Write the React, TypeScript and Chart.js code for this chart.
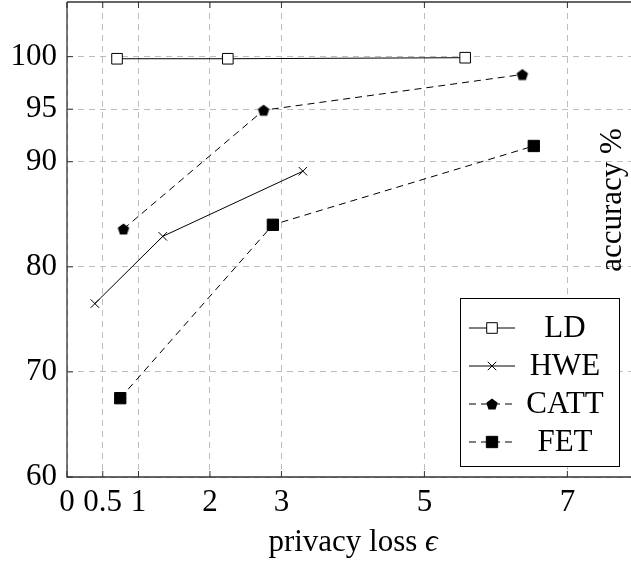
import React, { useEffect, useRef } from 'react';
import { Chart, registerables } from 'chart.js';

Chart.register(...registerables);

const xTicks = [0, 0.5, 1, 2, 3, 5, 7];
const yTicks = [60, 70, 80, 90, 95, 100];

const ldX = [0.7, 2.25, 5.57];
const ldY = [99.8, 99.8, 99.9];
const hweX = [0.39, 1.34, 3.3];
const hweY = [76.5, 82.9, 89.1];
const cattX = [0.79, 2.75, 6.37];
const cattY = [83.6, 94.9, 98.3];
const fetX = [0.745, 2.88, 6.53];
const fetY = [67.5, 84.0, 91.5];

const seriesNames = ['LD', 'HWE', 'CATT', 'FET'];

const FONT = '"Liberation Serif", "DejaVu Serif", serif';
const FS = 31;

function makePentagon(r: number): HTMLCanvasElement {
  const c = document.createElement('canvas');
  const s = Math.ceil(r * 2 + 2);
  c.width = s;
  c.height = s;
  const ctx = c.getContext('2d')!;
  ctx.fillStyle = '#000';
  ctx.beginPath();
  for (let i = 0; i < 5; i++) {
    const a = -Math.PI / 2 + (i * 2 * Math.PI) / 5;
    const px = s / 2 + r * Math.cos(a);
    const py = s / 2 + r * Math.sin(a) + r * 0.1;
    if (i === 0) ctx.moveTo(px, py);
    else ctx.lineTo(px, py);
  }
  ctx.closePath();
  ctx.fill();
  return c;
}

function drawMarker(ctx: CanvasRenderingContext2D, style: any, x: number, y: number, r: number) {
  if (style instanceof HTMLCanvasElement) {
    ctx.drawImage(style, x - style.width / 2, y - style.height / 2);
    return;
  }
  if (style === 'rect') {
    const s = Math.SQRT1_2 * r;
    ctx.beginPath();
    ctx.rect(x - s, y - s, 2 * s, 2 * s);
    ctx.fill();
    ctx.stroke();
    return;
  }
  if (style === 'crossRot') {
    const o = Math.SQRT1_2 * r;
    ctx.beginPath();
    ctx.moveTo(x - o, y - o);
    ctx.lineTo(x + o, y + o);
    ctx.moveTo(x - o, y + o);
    ctx.lineTo(x + o, y - o);
    ctx.stroke();
  }
}

const overlay = {
  id: 'overlay',
  afterDraw(chart: any) {
    const ctx = chart.ctx as CanvasRenderingContext2D;
    const ca = chart.chartArea;
    const xs = chart.scales.x;
    const ys = chart.scales.y;
    ctx.save();
    // axis lines
    ctx.strokeStyle = '#333';
    ctx.lineWidth = 1.3;
    ctx.setLineDash([]);
    ctx.beginPath();
    ctx.moveTo(ca.left, ca.top);
    ctx.lineTo(ca.left, ca.bottom);
    ctx.lineTo(chart.width, ca.bottom);
    ctx.moveTo(ca.left, ca.top);
    ctx.lineTo(chart.width, ca.top);
    ctx.stroke();
    // inward tick marks
    ctx.lineWidth = 1;
    ctx.beginPath();
    for (const v of xTicks) {
      const px = xs.getPixelForValue(v);
      ctx.moveTo(px, ca.bottom);
      ctx.lineTo(px, ca.bottom - 6);
      ctx.moveTo(px, ca.top);
      ctx.lineTo(px, ca.top + 6);
    }
    for (const v of yTicks) {
      const py = ys.getPixelForValue(v);
      ctx.moveTo(ca.left, py);
      ctx.lineTo(ca.left + 6, py);
    }
    ctx.stroke();

    // y title (inside plot, right side)
    ctx.fillStyle = '#000';
    ctx.font = `${FS}px ${FONT}`;
    ctx.save();
    ctx.translate(613, 200);
    ctx.rotate(-Math.PI / 2);
    ctx.textAlign = 'center';
    ctx.textBaseline = 'middle';
    ctx.fillText('accuracy %', 0, 0);
    ctx.restore();

    // x title
    const t1 = 'privacy loss ';
    const t2 = '\u03F5';
    ctx.font = `${FS}px ${FONT}`;
    const w1 = ctx.measureText(t1).width;
    ctx.font = `italic ${FS}px ${FONT}`;
    const w2 = ctx.measureText(t2).width;
    const cx = 353;
    const startX = cx - (w1 + w2) / 2;
    ctx.textBaseline = 'alphabetic';
    ctx.textAlign = 'left';
    ctx.font = `${FS}px ${FONT}`;
    ctx.fillText(t1, startX, 551);
    ctx.font = `italic ${FS}px ${FONT}`;
    ctx.fillText(t2, startX + w1, 551);

    // legend
    const lx0 = 460, ly0 = 298, lx1 = 619, ly1 = 466;
    ctx.fillStyle = '#fff';
    ctx.fillRect(lx0, ly0, lx1 - lx0, ly1 - ly0);
    ctx.strokeStyle = '#000';
    ctx.lineWidth = 1;
    ctx.strokeRect(lx0 + 0.5, ly0 + 0.5, lx1 - lx0, ly1 - ly0);
    const rows = [328, 366, 404, 442];
    chart.data.datasets.forEach((ds: any, i: number) => {
      const y = rows[i];
      ctx.save();
      ctx.strokeStyle = '#000';
      ctx.lineWidth = 1;
      ctx.setLineDash(ds.borderDash || []);
      ctx.beginPath();
      ctx.moveTo(469, y);
      ctx.lineTo(515, y);
      ctx.stroke();
      ctx.setLineDash([]);
      ctx.fillStyle = ds.pointBackgroundColor;
      ctx.strokeStyle = ds.pointBorderColor;
      ctx.lineWidth = ds.pointBorderWidth ?? 1;
      drawMarker(ctx, ds.pointStyle, 492, y, ds.pointRadius);
      ctx.restore();
      ctx.fillStyle = '#000';
      ctx.font = `${FS}px ${FONT}`;
      ctx.textAlign = 'center';
      ctx.textBaseline = 'middle';
      ctx.fillText(seriesNames[i], 565, y + 1);
    });
    ctx.restore();
  },
};

export default function App() {
  const ref = useRef<HTMLCanvasElement | null>(null);
  useEffect(() => {
    if (!ref.current) return;
    const pent = makePentagon(6);
    const pts = (xs: number[], ys: number[]) => xs.map((x, i) => ({ x, y: ys[i] }));
    const chart = new Chart(ref.current, {
      type: 'line',
      data: {
        datasets: [
          {
            label: seriesNames[0],
            data: pts(ldX, ldY),
            borderColor: '#000',
            borderWidth: 1,
            pointStyle: 'rect',
            pointRadius: 7.5,
            pointBackgroundColor: '#fff',
            pointBorderColor: '#000',
            pointBorderWidth: 1,
            fill: false,
          },
          {
            label: seriesNames[1],
            data: pts(hweX, hweY),
            borderColor: '#000',
            borderWidth: 1,
            pointStyle: 'crossRot',
            pointRadius: 6,
            pointBackgroundColor: '#000',
            pointBorderColor: '#000',
            pointBorderWidth: 1,
            fill: false,
          },
          {
            label: seriesNames[2],
            data: pts(cattX, cattY),
            borderColor: '#000',
            borderWidth: 1,
            borderDash: [7, 5],
            pointStyle: pent,
            pointRadius: 6,
            pointBackgroundColor: '#000',
            pointBorderColor: '#000',
            fill: false,
          },
          {
            label: seriesNames[3],
            data: pts(fetX, fetY),
            borderColor: '#000',
            borderWidth: 1,
            borderDash: [7, 5],
            pointStyle: 'rect',
            pointRadius: 8,
            pointBackgroundColor: '#000',
            pointBorderColor: '#000',
            pointBorderWidth: 1,
            fill: false,
          },
        ] as any,
      },
      options: {
        responsive: false,
        animation: false,
        devicePixelRatio: 1,
        layout: { autoPadding: false, padding: { top: 2, left: 0, right: 0, bottom: 0 } },
        plugins: { legend: { display: false }, tooltip: { enabled: false } },
        elements: { line: { tension: 0 } },
        scales: {
          x: {
            type: 'linear',
            min: 0,
            max: 7.89,
            afterBuildTicks: (s: any) => {
              s.ticks = xTicks.map((v) => ({ value: v }));
            },
            afterFit: (s: any) => {
              s.height = 85;
              s.paddingLeft = 0;
              s.paddingRight = 0;
            },
            ticks: {
              font: { family: FONT, size: FS },
              color: '#000',
              padding: 7,
              maxRotation: 0,
              autoSkip: false,
              callback: (v: any) => String(v),
            },
            grid: { color: '#bdbdbd', lineWidth: 1, drawTicks: false },
            border: { display: false, dash: [6, 5] },
          },
          y: {
            type: 'linear',
            min: 60,
            max: 105.2,
            afterBuildTicks: (s: any) => {
              s.ticks = yTicks.map((v) => ({ value: v }));
            },
            afterFit: (s: any) => {
              s.width = 67;
              s.paddingTop = 0;
              s.paddingBottom = 0;
            },
            ticks: {
              font: { family: FONT, size: FS },
              color: '#000',
              padding: 10,
              autoSkip: false,
              callback: (v: any) => String(v),
            },
            grid: { color: '#bdbdbd', lineWidth: 1, drawTicks: false },
            border: { display: false, dash: [6, 5] },
          },
        },
      } as any,
      plugins: [overlay],
    });
    return () => chart.destroy();
  }, []);
  return (
    <div style={{ position: 'absolute', left: 0, top: 0, width: 631, height: 562 }}>
      <canvas ref={ref} width={631} height={562} style={{ display: 'block' }} />
    </div>
  );
}
